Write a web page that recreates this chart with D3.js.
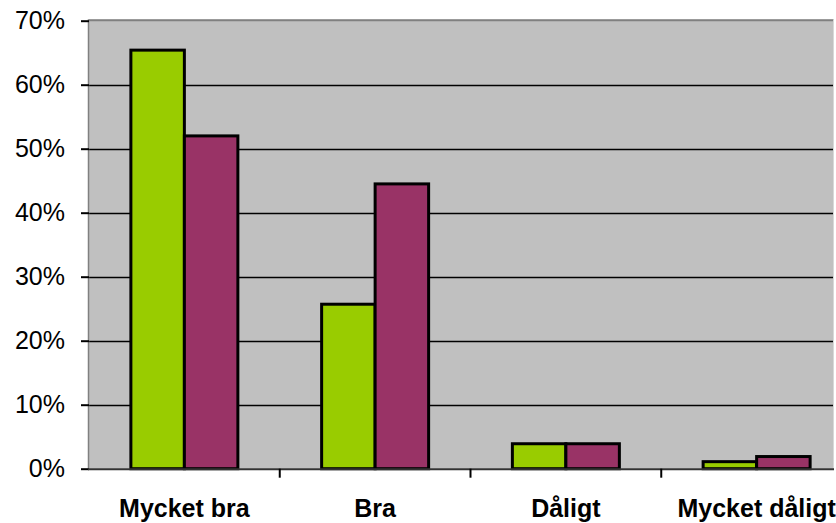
<!DOCTYPE html>
<html>
<head>
<meta charset="utf-8">
<script src="https://cdn.jsdelivr.net/npm/d3@7"></script>
<style>
  html, body { margin: 0; padding: 0; background: #fff; }
  svg { display: block; }
  text { font-family: "Liberation Sans", Arial, sans-serif; font-size: 25px; fill: #000; }
</style>
</head>
<body>
<svg id="chart" width="836" height="523"></svg>
<script>
// Answer categories and the two series (share of respondents)
const categories = ["Mycket bra", "Bra", "Dåligt", "Mycket dåligt"];
const seriesA = [0.654, 0.257, 0.039, 0.011];
const seriesB = [0.520, 0.445, 0.039, 0.019];
const yTicks = [0, 0.1, 0.2, 0.3, 0.4, 0.5, 0.6, 0.7];
const seriesColors = ["#99CC00", "#993366"];

const svg = d3.select("#chart");
const plot = { left: 89, top: 20.7, right: 852, bottom: 468.7 };
const visibleRight = 834;

const x = d3.scaleBand().domain(categories).range([plot.left, plot.right]).paddingInner(0).paddingOuter(0);
const y = d3.scaleLinear().domain([0, 0.7]).range([plot.bottom, plot.top]);
const groupWidth = 107;
const xs = d3.scaleBand().domain([0, 1]).range([0, groupWidth]);

svg.append("clipPath").attr("id", "plotClip")
  .append("rect").attr("x", plot.left).attr("y", 0)
  .attr("width", visibleRight - plot.left).attr("height", 523);

const area = svg.append("g").attr("clip-path", "url(#plotClip)");

// plot background
area.append("rect")
  .attr("x", plot.left).attr("y", plot.top - 1)
  .attr("width", plot.right - plot.left).attr("height", plot.bottom - plot.top + 1)
  .attr("fill", "#C0C0C0");

// horizontal gridlines
area.selectAll("line.grid").data(yTicks.filter(d => d > 0 && d < 0.7)).join("line")
  .attr("class", "grid")
  .attr("x1", plot.left).attr("x2", plot.right)
  .attr("y1", d => Math.round(y(d)) + 0.5).attr("y2", d => Math.round(y(d)) + 0.5)
  .attr("stroke", "#000").attr("stroke-width", 1.5);

// top border of the plot area
area.append("line")
  .attr("x1", plot.left).attr("x2", plot.right)
  .attr("y1", y(0.7) - 0.5).attr("y2", y(0.7) - 0.5)
  .attr("stroke", "#808080").attr("stroke-width", 2);

// right edge of the visible plot area
svg.append("line")
  .attr("x1", visibleRight - 0.5).attr("x2", visibleRight - 0.5)
  .attr("y1", plot.top - 1.5).attr("y2", plot.bottom)
  .attr("stroke", "#D8D8D8").attr("stroke-width", 1);

// bars
const rows = categories.map((c, i) => ({ c, vals: [seriesA[i], seriesB[i]] }));
const groups = area.selectAll("g.cat").data(rows).join("g")
  .attr("class", "cat")
  .attr("transform", d => `translate(${x(d.c) + (x.bandwidth() - groupWidth) / 2},0)`);

groups.selectAll("rect").data(d => d.vals.map((v, k) => ({ v, k }))).join("rect")
  .attr("x", d => xs(d.k))
  .attr("y", d => y(d.v))
  .attr("width", xs.bandwidth())
  .attr("height", d => y(0) - y(d.v))
  .attr("fill", d => seriesColors[d.k])
  .attr("stroke", "#000").attr("stroke-width", 3);

// left border and value axis
svg.append("line")
  .attr("x1", plot.left - 0.5).attr("x2", plot.left - 0.5)
  .attr("y1", plot.top - 1.5).attr("y2", plot.bottom)
  .attr("stroke", "#808080").attr("stroke-width", 1.5);

const yAxis = d3.axisLeft(y).tickValues(yTicks).tickFormat(d3.format(".0%"))
  .tickSize(8).tickPadding(16);
const gy = svg.append("g").attr("transform", `translate(${plot.left},0)`).call(yAxis);
gy.select(".domain").remove();
gy.selectAll(".tick line").attr("stroke", "#000").attr("stroke-width", 2);
gy.selectAll(".tick text")
  .style("font-family", '"Liberation Sans", Arial, sans-serif')
  .style("font-size", "25px").attr("fill", "#000");

// category axis
const xAxis = d3.axisBottom(x).tickSize(0).tickPadding(31);
const gx = svg.append("g").attr("transform", `translate(0,${plot.bottom})`).call(xAxis);
gx.select(".domain").remove();
gx.selectAll(".tick text")
  .style("font-family", '"Liberation Sans", Arial, sans-serif')
  .style("font-size", "25px").style("font-weight", "bold").attr("fill", "#000");

svg.append("line")
  .attr("x1", plot.left - 1).attr("x2", visibleRight)
  .attr("y1", plot.bottom + 0.5).attr("y2", plot.bottom + 0.5)
  .attr("stroke", "#333").attr("stroke-width", 2);

// tick marks between categories
svg.selectAll("line.ctick").data(categories.slice(1)).join("line")
  .attr("class", "ctick")
  .attr("x1", d => x(d)).attr("x2", d => x(d))
  .attr("y1", plot.bottom).attr("y2", plot.bottom + 9)
  .attr("stroke", "#000").attr("stroke-width", 2);
</script>
</body>
</html>
